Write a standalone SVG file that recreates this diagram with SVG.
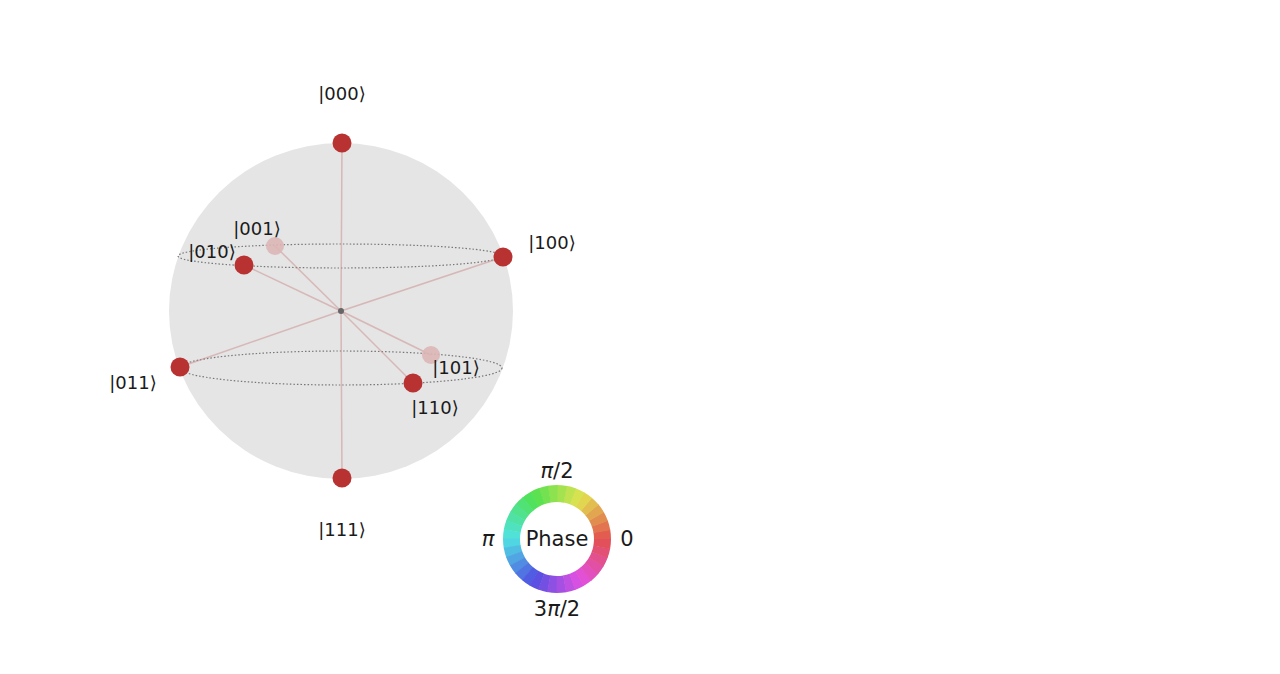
<svg xmlns="http://www.w3.org/2000/svg" width="1280" height="674" viewBox="0 0 1280 674">
<style>
.lbl{font-family:"DejaVu Sans",sans-serif;font-size:18px;fill:#1a1a1a;text-anchor:middle;dominant-baseline:central}
.ph{font-family:"DejaVu Sans",sans-serif;font-size:21px;fill:#1a1a1a;text-anchor:middle;dominant-baseline:central}
.spoke{stroke:#c98a8a;stroke-opacity:0.5;stroke-width:1.5}
.pt{fill:#b83232}
.fade{fill:#dcb6b6;fill-opacity:0.9}
.eq{fill:none;stroke:#777;stroke-width:1.2;stroke-dasharray:1.5 2}
.seg{fill:none;stroke-width:17;stroke-dasharray:8.4 300}
</style>
<rect width="1280" height="674" fill="#fff"/>
<g id="sphere">
<ellipse cx="341" cy="311" rx="172" ry="168" fill="#e5e5e5"/>
<ellipse class="eq" cx="340" cy="256" rx="162" ry="12"/>
<ellipse class="eq" cx="341" cy="368" rx="161" ry="17"/>
</g>
<g id="connectors">
<line class="spoke" x1="341" y1="311" x2="342" y2="143"/>
<line class="spoke" x1="341" y1="311" x2="342" y2="478"/>
<line class="spoke" x1="341" y1="311" x2="503" y2="257"/>
<line class="spoke" x1="341" y1="311" x2="244" y2="265"/>
<line class="spoke" x1="341" y1="311" x2="275" y2="246"/>
<line class="spoke" x1="341" y1="311" x2="180" y2="367"/>
<line class="spoke" x1="341" y1="311" x2="431" y2="355"/>
<line class="spoke" x1="341" y1="311" x2="413" y2="383"/>
</g>
<g id="center"><circle cx="341" cy="311" r="3" fill="#666"/></g>
<g id="s001"><circle class="fade" cx="275" cy="246" r="9"/><text class="lbl" x="257" y="228">|001⟩</text></g>
<g id="s101"><circle class="fade" cx="431" cy="355" r="9"/><text class="lbl" x="456" y="367">|101⟩</text></g>
<g id="s000"><circle class="pt" cx="342" cy="143" r="9.5"/><text class="lbl" x="342" y="93">|000⟩</text></g>
<g id="s100"><circle class="pt" cx="503" cy="257" r="9.5"/><text class="lbl" x="552" y="242">|100⟩</text></g>
<g id="s010"><circle class="pt" cx="244" cy="265" r="9.5"/><text class="lbl" x="212" y="251">|010⟩</text></g>
<g id="s011"><circle class="pt" cx="180" cy="367" r="9.5"/><text class="lbl" x="133" y="382">|011⟩</text></g>
<g id="s110"><circle class="pt" cx="413" cy="383" r="9.5"/><text class="lbl" x="435" y="407">|110⟩</text></g>
<g id="s111"><circle class="pt" cx="342" cy="478" r="9.5"/><text class="lbl" x="342" y="529">|111⟩</text></g>
<g id="phase-wheel">
<circle class="seg" cx="557" cy="539" r="45.5" stroke="hsl(5,72%,60%)" transform="rotate(-10 557 539)"/>
<circle class="seg" cx="557" cy="539" r="45.5" stroke="hsl(15,72%,60%)" transform="rotate(-20 557 539)"/>
<circle class="seg" cx="557" cy="539" r="45.5" stroke="hsl(25,72%,60%)" transform="rotate(-30 557 539)"/>
<circle class="seg" cx="557" cy="539" r="45.5" stroke="hsl(35,72%,60%)" transform="rotate(-40 557 539)"/>
<circle class="seg" cx="557" cy="539" r="45.5" stroke="hsl(45,72%,60%)" transform="rotate(-50 557 539)"/>
<circle class="seg" cx="557" cy="539" r="45.5" stroke="hsl(55,72%,60%)" transform="rotate(-60 557 539)"/>
<circle class="seg" cx="557" cy="539" r="45.5" stroke="hsl(65,72%,60%)" transform="rotate(-70 557 539)"/>
<circle class="seg" cx="557" cy="539" r="45.5" stroke="hsl(75,72%,60%)" transform="rotate(-80 557 539)"/>
<circle class="seg" cx="557" cy="539" r="45.5" stroke="hsl(85,72%,60%)" transform="rotate(-90 557 539)"/>
<circle class="seg" cx="557" cy="539" r="45.5" stroke="hsl(95,72%,60%)" transform="rotate(-100 557 539)"/>
<circle class="seg" cx="557" cy="539" r="45.5" stroke="hsl(105,72%,60%)" transform="rotate(-110 557 539)"/>
<circle class="seg" cx="557" cy="539" r="45.5" stroke="hsl(115,72%,60%)" transform="rotate(-120 557 539)"/>
<circle class="seg" cx="557" cy="539" r="45.5" stroke="hsl(125,72%,60%)" transform="rotate(-130 557 539)"/>
<circle class="seg" cx="557" cy="539" r="45.5" stroke="hsl(135,72%,60%)" transform="rotate(-140 557 539)"/>
<circle class="seg" cx="557" cy="539" r="45.5" stroke="hsl(145,72%,60%)" transform="rotate(-150 557 539)"/>
<circle class="seg" cx="557" cy="539" r="45.5" stroke="hsl(155,72%,60%)" transform="rotate(-160 557 539)"/>
<circle class="seg" cx="557" cy="539" r="45.5" stroke="hsl(165,72%,60%)" transform="rotate(-170 557 539)"/>
<circle class="seg" cx="557" cy="539" r="45.5" stroke="hsl(175,72%,60%)" transform="rotate(-180 557 539)"/>
<circle class="seg" cx="557" cy="539" r="45.5" stroke="hsl(185,72%,60%)" transform="rotate(-190 557 539)"/>
<circle class="seg" cx="557" cy="539" r="45.5" stroke="hsl(195,72%,60%)" transform="rotate(-200 557 539)"/>
<circle class="seg" cx="557" cy="539" r="45.5" stroke="hsl(205,72%,60%)" transform="rotate(-210 557 539)"/>
<circle class="seg" cx="557" cy="539" r="45.5" stroke="hsl(215,72%,60%)" transform="rotate(-220 557 539)"/>
<circle class="seg" cx="557" cy="539" r="45.5" stroke="hsl(225,72%,60%)" transform="rotate(-230 557 539)"/>
<circle class="seg" cx="557" cy="539" r="45.5" stroke="hsl(235,72%,60%)" transform="rotate(-240 557 539)"/>
<circle class="seg" cx="557" cy="539" r="45.5" stroke="hsl(245,72%,60%)" transform="rotate(-250 557 539)"/>
<circle class="seg" cx="557" cy="539" r="45.5" stroke="hsl(255,72%,60%)" transform="rotate(-260 557 539)"/>
<circle class="seg" cx="557" cy="539" r="45.5" stroke="hsl(265,72%,60%)" transform="rotate(-270 557 539)"/>
<circle class="seg" cx="557" cy="539" r="45.5" stroke="hsl(275,72%,60%)" transform="rotate(-280 557 539)"/>
<circle class="seg" cx="557" cy="539" r="45.5" stroke="hsl(285,72%,60%)" transform="rotate(-290 557 539)"/>
<circle class="seg" cx="557" cy="539" r="45.5" stroke="hsl(295,72%,60%)" transform="rotate(-300 557 539)"/>
<circle class="seg" cx="557" cy="539" r="45.5" stroke="hsl(305,72%,60%)" transform="rotate(-310 557 539)"/>
<circle class="seg" cx="557" cy="539" r="45.5" stroke="hsl(315,72%,60%)" transform="rotate(-320 557 539)"/>
<circle class="seg" cx="557" cy="539" r="45.5" stroke="hsl(325,72%,60%)" transform="rotate(-330 557 539)"/>
<circle class="seg" cx="557" cy="539" r="45.5" stroke="hsl(335,72%,60%)" transform="rotate(-340 557 539)"/>
<circle class="seg" cx="557" cy="539" r="45.5" stroke="hsl(345,72%,60%)" transform="rotate(-350 557 539)"/>
<circle class="seg" cx="557" cy="539" r="45.5" stroke="hsl(355,72%,60%)" transform="rotate(-360 557 539)"/>
<text class="ph" x="557" y="539">Phase</text>
<text class="ph" x="557" y="471"><tspan font-style="italic">π</tspan>/2</text>
<text class="ph" x="488" y="539" font-style="italic">π</text>
<text class="ph" x="627" y="539">0</text>
<text class="ph" x="557" y="609">3<tspan font-style="italic">π</tspan>/2</text>
</g>
</svg>
